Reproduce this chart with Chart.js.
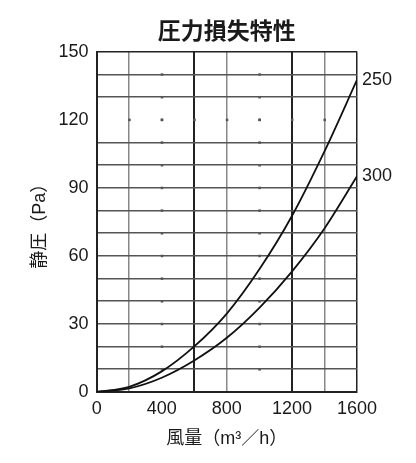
<!DOCTYPE html>
<html>
<head>
<meta charset="utf-8">
<script src="https://cdn.jsdelivr.net/npm/chart.js@4"></script>
<style>
  body { margin: 0; background: #fff; }
</style>
</head>
<body>
<canvas id="lossChart" width="416" height="463"></canvas>
<script>
// 風量 (m3/h)
const flowRates = [0, 200, 400, 600, 800, 1000, 1200, 1400, 1600];
// 静圧 (Pa)
const pressure250 = [0, 2.2, 9, 20, 34.5, 54, 77.5, 106, 137.5];
const pressure300 = [0, 1.5, 6.2, 13.8, 23.8, 37, 53, 72, 95];
const seriesLabels = ['250', '300'];
const xTickLabels = [0, 400, 800, 1200, 1600];
const yTickLabels = [0, 30, 60, 90, 120, 150];
// grid lines that are only faint dots in the original
const dottedX = [400, 1000];
const dottedY = [120];

const FONT = '"Liberation Sans", "Noto Sans CJK JP", sans-serif';

const endLabels = {
  id: 'endLabels',
  afterDatasetsDraw(chart) {
    const ctx = chart.ctx;
    ctx.save();
    ctx.font = '18px ' + FONT;
    ctx.fillStyle = '#1a1a1a';
    ctx.textBaseline = 'middle';
    chart.data.datasets.forEach((ds, i) => {
      const pts = chart.getDatasetMeta(i).data;
      const p = pts[pts.length - 1];
      ctx.fillText(ds.label, p.x + 5, p.y);
    });
    ctx.restore();
  }
};

const gridDots = {
  id: 'gridDots',
  beforeDatasetsDraw(chart) {
    const { ctx, scales } = chart;
    ctx.save();
    ctx.fillStyle = '#555';
    dottedX.forEach((xv) => {
      for (let yv = 10; yv < 150; yv += 10) {
        ctx.fillRect(scales.x.getPixelForValue(xv) - 1, scales.y.getPixelForValue(yv) - 1, 2.5, 2.5);
      }
    });
    dottedY.forEach((yv) => {
      for (let xv = 200; xv < 1600; xv += 200) {
        ctx.fillRect(scales.x.getPixelForValue(xv) - 1, scales.y.getPixelForValue(yv) - 1, 2.5, 2.5);
      }
    });
    ctx.restore();
  }
};

const xGridColor = (c) => {
  const v = c.tick.value;
  if (dottedX.includes(v)) return 'rgba(0,0,0,0)';
  if (v === 600 || v === 1200 || v === 1600 || v === 0) return '#222';
  return '#888';
};
const yGridColor = (c) => {
  const v = c.tick.value;
  if (dottedY.includes(v)) return 'rgba(0,0,0,0)';
  if (v === 150 || v === 0) return '#222';
  return '#555';
};

new Chart(document.getElementById('lossChart'), {
  type: 'line',
  data: {
    labels: flowRates,
    datasets: [
      {
        label: seriesLabels[0],
        data: flowRates.map((x, i) => ({ x: x, y: pressure250[i] })),
        borderColor: '#111',
        borderWidth: 1.8,
        pointRadius: 0,
        cubicInterpolationMode: 'monotone',
      },
      {
        label: seriesLabels[1],
        data: flowRates.map((x, i) => ({ x: x, y: pressure300[i] })),
        borderColor: '#111',
        borderWidth: 1.8,
        pointRadius: 0,
        cubicInterpolationMode: 'monotone',
      },
    ],
  },
  options: {
    responsive: false,
    animation: false,
    layout: { padding: { left: 29, right: 59, top: 4, bottom: 9 } },
    plugins: {
      legend: { display: false },
      tooltip: { enabled: false },
      title: {
        display: true,
        fullSize: false,
        text: '圧力損失特性',
        color: '#1a1a1a',
        font: { family: FONT, size: 23, weight: 'bold' },
        padding: { top: 15, bottom: 5 },
      },
    },
    scales: {
      x: {
        type: 'linear',
        min: 0,
        max: 1600,
        ticks: {
          stepSize: 200,
          color: '#1a1a1a',
          padding: 6,
          font: { family: FONT, size: 18 },
          maxRotation: 0,
          autoSkip: false,
          callback: (v) => (xTickLabels.includes(v) ? v : ''),
        },
        grid: { color: xGridColor, lineWidth: (c) => (c.tick.value === 600 || c.tick.value === 1200 ? 2 : 1.5), drawTicks: false },
        border: { color: '#222', width: 2 },
        title: {
          display: true,
          text: '風量（m³／h）',
          color: '#1a1a1a',
          font: { family: FONT, size: 18 },
          padding: { top: 3 },
        },
      },
      y: {
        min: 0,
        max: 150,
        ticks: {
          stepSize: 10,
          color: '#1a1a1a',
          padding: 8,
          font: { family: FONT, size: 18 },
          autoSkip: false,
          callback: (v) => (yTickLabels.includes(v) ? v : ''),
        },
        grid: { color: yGridColor, lineWidth: 1.5, drawTicks: false },
        border: { color: '#222', width: 2 },
        title: {
          display: true,
          text: '静圧（Pa）',
          color: '#1a1a1a',
          font: { family: FONT, size: 18 },
          padding: { top: 0, bottom: 0 },
        },
      },
    },
  },
  plugins: [endLabels, gridDots],
});
</script>
</body>
</html>
